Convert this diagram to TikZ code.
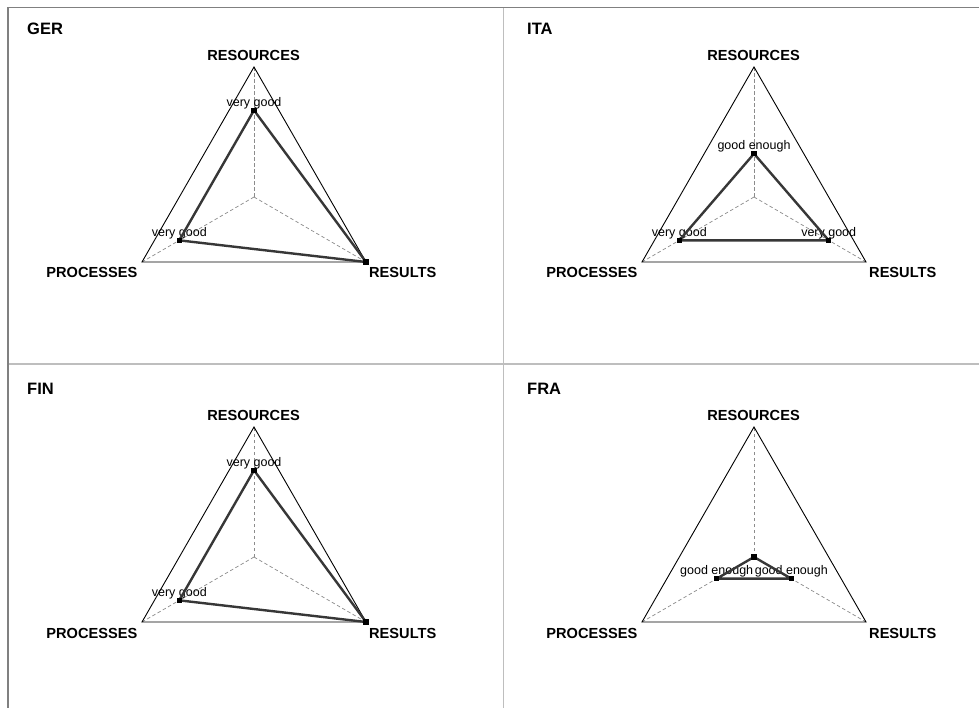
\documentclass[tikz,border=0pt]{standalone}
\usepackage{fontspec}
\setmainfont{Liberation Sans}
\usetikzlibrary{calc}

\definecolor{framegray}{RGB}{128,128,128}
\definecolor{divgray}{RGB}{190,190,190}
\definecolor{spokegray}{RGB}{140,140,140}
\definecolor{polygray}{RGB}{55,55,55}

\tikzset{
  panel title/.style={anchor=base west, inner sep=0pt, font=\fontsize{16.5}{18}\selectfont\bfseries},
  axis label/.style={inner sep=0pt, font=\fontsize{14.6}{16}\selectfont\bfseries},
  value label/.style={inner sep=0pt, font=\fontsize{12.5}{14}\selectfont, yshift=7.5pt},
  outline/.style={draw=black, line width=0.9pt, line join=miter},
  spoke/.style={draw=spokegray, dash pattern=on 3.5pt off 2.5pt, line width=0.7pt},
  profile/.style={draw=polygray, line width=2.4pt, line join=round},
  marker/.style={rectangle, fill=black, inner sep=0pt, minimum size=5.5pt},
  border/.style={draw=framegray, line width=1.6pt},
  divider/.style={draw=divgray, line width=1.6pt},
}

% Triangle frame of one panel: #1 id, #2 title, #3/#4 shift
\newcommand\radarframe[4]{%
  \begin{scope}[shift={(#3,#4)}]
    \coordinate (#1-r) at (254,67);
    \coordinate (#1-p) at (142,262);
    \coordinate (#1-s) at (366,262);
    \coordinate (#1-c) at (254,197);
    \node[panel title] (#1-title) at (27,34.3) {#2};
    \node[axis label, anchor=base] (#1-rlab) at (253.5,60.3) {RESOURCES};
    \node[axis label, anchor=base east] (#1-plab) at (137.5,278) {PROCESSES};
    \node[axis label, anchor=base west] (#1-slab) at (369,278) {RESULTS};
  \end{scope}
  \draw[spoke] (#1-c) -- (#1-r);
  \draw[spoke] (#1-c) -- (#1-p);
  \draw[spoke] (#1-c) -- (#1-s);
  \draw[outline] (#1-r) -- (#1-p) -- (#1-s) -- cycle;
}

% Data profile of one panel: #1 id, #2/#3/#4 fractions for resources, processes, results
\newcommand\radardata[4]{%
  \coordinate (#1-d1) at ($(#1-c)!#2!(#1-r)$);
  \coordinate (#1-d2) at ($(#1-c)!#3!(#1-p)$);
  \coordinate (#1-d3) at ($(#1-c)!#4!(#1-s)$);
}
\newcommand\radarprofile[1]{%
  \draw[profile] (#1-d1) -- (#1-d2) -- (#1-d3) -- cycle;
  \node[marker] (#1-m1) at (#1-d1) {};
  \node[marker] (#1-m2) at (#1-d2) {};
  \node[marker] (#1-m3) at (#1-d3) {};
}

\begin{document}
\begin{tikzpicture}[x=1pt, y=-1pt]
  \useasboundingbox (0,0) rectangle (979,708);
  \fill[white] (0,0) rectangle (979,708);

  % window frame and panel dividers
  \coordinate (tl) at (8,7.5);
  \coordinate (tr) at (979,7.5);
  \coordinate (bl) at (8,708);
  \coordinate (vt) at (503.5,7.5);
  \coordinate (vb) at (503.5,708);
  \coordinate (hl) at (8,364);
  \coordinate (hr) at (979,364);
  \draw[divider] (vt) -- (vb);
  \draw[divider] (hl) -- (hr);
  \draw[border] (tl) -- (tr);
  \draw[border] (tl) -- (bl);

  % GER
  \radarframe{ger}{GER}{0}{0}
  \radardata{ger}{0.667}{0.667}{1}
  \node[value label] (ger-v1) at (ger-d1) {very good};
  \node[value label] (ger-v2) at (ger-d2) {very good};
  \radarprofile{ger}

  % ITA
  \radarframe{ita}{ITA}{500}{0}
  \radardata{ita}{0.333}{0.667}{0.667}
  \node[value label] (ita-v1) at (ita-d1) {good enough};
  \node[value label] (ita-v2) at (ita-d2) {very good};
  \node[value label] (ita-v3) at (ita-d3) {very good};
  \radarprofile{ita}

  % FIN
  \radarframe{fin}{FIN}{0}{360}
  \radardata{fin}{0.667}{0.667}{1}
  \node[value label] (fin-v1) at (fin-d1) {very good};
  \node[value label] (fin-v2) at (fin-d2) {very good};
  \radarprofile{fin}

  % FRA
  \radarframe{fra}{FRA}{500}{360}
  \radardata{fra}{0}{0.333}{0.333}
  \node[value label] (fra-v2) at (fra-d2) {good enough};
  \node[value label] (fra-v3) at (fra-d3) {good enough};
  \radarprofile{fra}
\end{tikzpicture}
\end{document}
